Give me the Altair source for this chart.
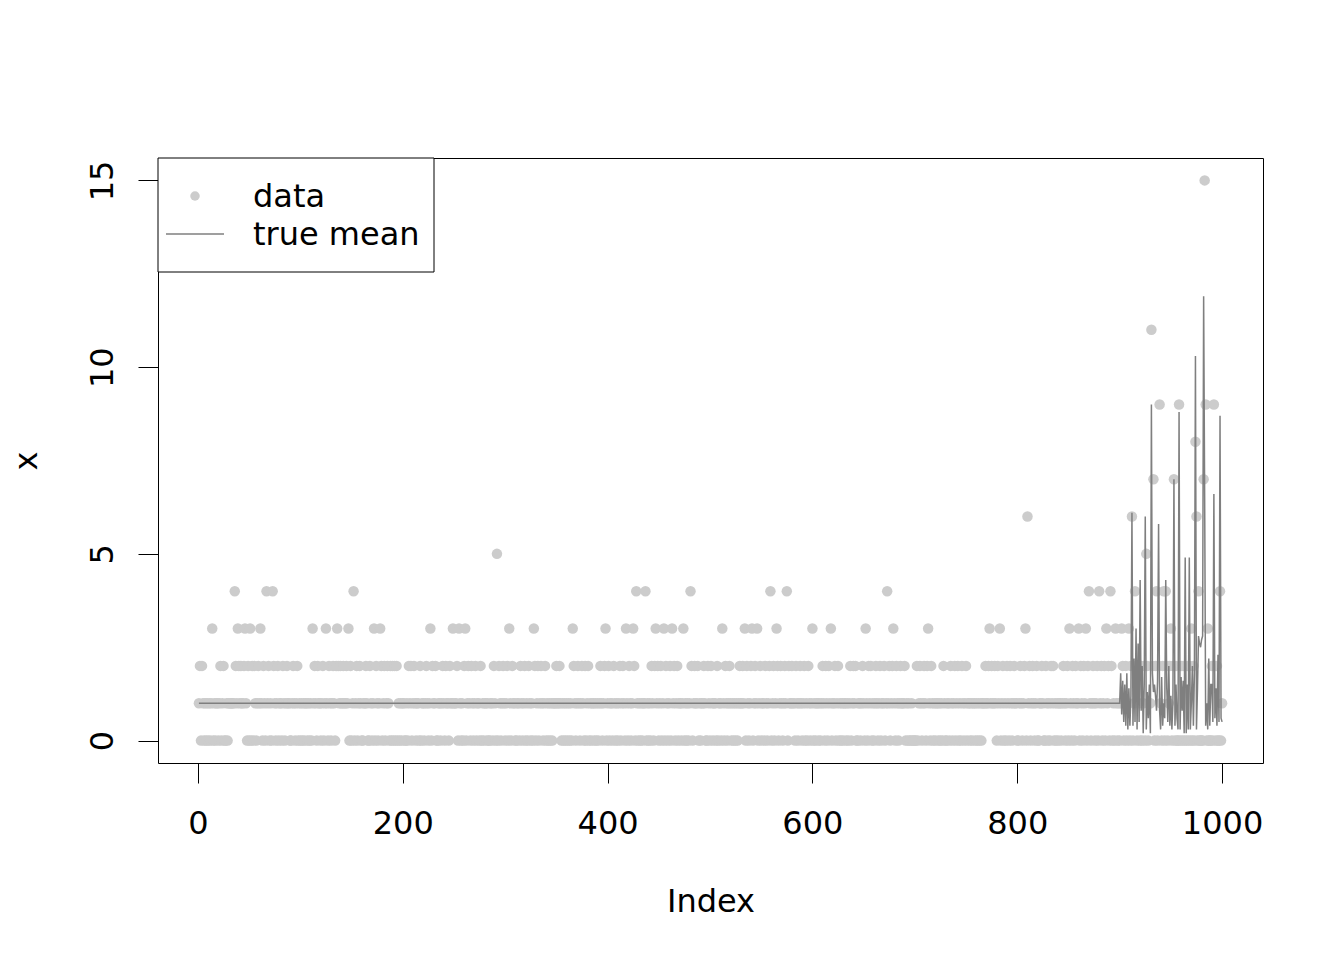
import altair as alt
import pandas as pd

x_001_100 = ("1202101010" "1013010110" "1201200101" "1111142132" "1211231020"
             "3020210121" "3102104120" "1042101201" "1021012110" "0121012010")
x_101_200 = ("1010110101" "0312102110" "1201310210" "1210232121" "1211213020"
             "1401201210" "0112100210" "1302101320" "1201210202" "0202010101")
x_201_300 = ("1001021201" "2101102011" "0121013021" "1200110121" "0211021131"
             "1120310102" "3012102101" "2011020101" "1010011021" "0502101210")
x_301_400 = ("1203102110" "0110210120" "1021010320" "1201210120" "1010101112"
             "1121010101" "0101032101" "2101210201" "2010110101" "0121012301")
x_401_500 = ("2011021010" "1201210310" "2101320410" "1010114010" "1021023120"
             "1201302101" "2031201201" "1013010101" "4201211201" "0112100210")
x_501_600 = ("2101102011" "0310210121" "0101010121" "1213021012" "3012130120"
             "1102101240" "1201320121" "0121402112" "1102101210" "1201021013")
x_601_700 = ("0101101012" "1021021301" "1201201010" "1101012012" "1200110121"
             "0310212010" "1210120112" "0141201231" "0210121112" "0101001000")
x_701_800 = ("0201210121" "0231021010" "1101010210" "0110210120" "1201021012"
             "0110101101" "0101011121" "1231211210" "2130120102" "1021012110")
x_801_900 = ("0121012306" "1201210120" "0112100210" "1021201010" "1101210120"
             "3102102113" "0210213024" "1012101204" "1201203120" "4201031010")
x_901_1000 = [1, 3, 2, 0, 1, 2, 0, 1, 3, 0,
              2, 6, 0, 1, 4, 2, 0, 2, 1, 0,
              2, 0, 1, 2, 0, 5, 2, 0, 1, 1,
              11, 2, 7, 0, 2, 4, 0, 2, 9, 1,
              0, 2, 4, 0, 4, 2, 0, 1, 2, 3,
              0, 2, 7, 0, 2, 0, 0, 9, 0, 2,
              0, 2, 0, 2, 0, 2, 0, 2, 0, 3,
              0, 2, 0, 8, 6, 0, 4, 0, 0, 0,
              0, 7, 15, 9, 0, 3, 0, 0, 0, 2,
              0, 9, 2, 0, 2, 0, 0, 4, 0, 1]

# True mean: constant 1 up to index 900, then the values below
mean_flat_value = 1.0
mean_flat_until = 900
mean_901_1000 = [1.8, 0.7, 1.6, 0.5, 1.5, 0.4, 1.8, 0.3, 1.4, 0.4,
                 1.2, 6.1, 0.4, 2.2, 0.5, 3.0, 0.3, 2.6, 0.5, 4.3,
                 0.8, 2.0, 0.2, 1.5, 6.0, 0.3, 1.3, 0.6, 1.5, 0.2,
                 9.0, 1.8, 1.3, 1.5, 1.2, 0.8, 1.6, 5.8, 0.8, 0.3,
                 1.7, 0.4, 1.0, 0.6, 4.3, 1.4, 0.5, 2.0, 0.4, 1.2,
                 0.3, 1.0, 7.0, 0.4, 1.5, 0.6, 0.3, 8.8, 0.3, 1.7,
                 0.8, 1.6, 0.2, 4.9, 0.2, 1.5, 0.3, 4.9, 0.3, 1.0,
                 2.0, 0.4, 1.8, 10.3, 0.3, 1.4, 2.8, 2.6, 2.5, 2.7,
                 2.8, 11.9, 6.5, 0.4, 1.0, 0.3, 2.2, 0.4, 1.5, 1.5,
                 0.5, 6.6, 0.6, 1.4, 0.4, 2.3, 0.5, 8.7, 0.6, 0.5]

x_ticks = [0, 200, 400, 600, 800, 1000]
y_ticks = [0, 5, 10, 15]
legend_labels = ["data", "true mean"]

digits = (x_001_100 + x_101_200 + x_201_300 + x_301_400 + x_401_500 +
          x_501_600 + x_601_700 + x_701_800 + x_801_900)
values = [int(c) for c in digits] + x_901_1000
means = [mean_flat_value] * mean_flat_until + mean_901_1000
index = list(range(1, len(values) + 1))

df = pd.DataFrame({"Index": index, "x": values, "mean": means})

FONT = "DejaVu Sans"
FS = 32
DOT = "#cccccc"
LINE = "#7f7f7f"

xscale = alt.Scale(domain=[-38.96, 1039.96], nice=False, zero=False)
yscale = alt.Scale(domain=[-0.6, 15.6], nice=False, zero=False)

xaxis = alt.Axis(values=x_ticks, format="d", tickSize=20, labelPadding=50,
                 labelBaseline="alphabetic", labelFlush=False, labelOverlap=False,
                 title="Index", titleY=148, titleBaseline="alphabetic")
yaxis = alt.Axis(values=y_ticks, format="d", tickSize=20, labelPadding=26,
                 labelAngle=270, labelAlign="center", labelBaseline="alphabetic",
                 labelFlush=False, labelOverlap=False,
                 title="x", titleAngle=270, titleX=-122, titleY=302.5,
                 titleAlign="center", titleBaseline="alphabetic")

points = alt.Chart(df).mark_point(filled=True, size=110, opacity=1, color=DOT).encode(
    x=alt.X("Index:Q", scale=xscale, axis=xaxis),
    y=alt.Y("x:Q", scale=yscale, axis=yaxis),
)

line = alt.Chart(df).mark_line(strokeWidth=1.5, color=LINE).encode(
    x=alt.X("Index:Q", scale=xscale),
    y=alt.Y("mean:Q", scale=yscale),
)

# legend (drawn as decoration in the top-left corner of the plot box)
one = pd.DataFrame({"k": [0]})
leg_box = alt.Chart(one).mark_rect(fill="white", stroke="black", strokeWidth=1).encode(
    x=alt.value(0), x2=alt.value(276), y=alt.value(0), y2=alt.value(114))
leg_dot = alt.Chart(one).mark_point(filled=True, size=90, opacity=1, color=DOT).encode(
    x=alt.value(37), y=alt.value(38))
leg_line = alt.Chart(one).mark_rule(strokeWidth=1.5, color=LINE).encode(
    x=alt.value(8), x2=alt.value(66), y=alt.value(76))
leg_text1 = alt.Chart(one).mark_text(align="left", baseline="alphabetic", font=FONT,
                                      fontSize=FS, color="black").encode(
    x=alt.value(95), y=alt.value(49), text=alt.value(legend_labels[0]))
leg_text2 = alt.Chart(one).mark_text(align="left", baseline="alphabetic", font=FONT,
                                      fontSize=FS, color="black").encode(
    x=alt.value(95), y=alt.value(87), text=alt.value(legend_labels[1]))

chart = alt.layer(points, line, leg_box, leg_dot, leg_line, leg_text1, leg_text2).properties(
    width=1105, height=605,
    padding={"left": 150, "top": 150, "right": 73, "bottom": 189},
    autosize=alt.AutoSizeParams(type="none"),
).configure(font=FONT).configure_view(
    stroke="black", strokeWidth=1
).configure_axis(
    labelFont=FONT, titleFont=FONT, labelFontSize=FS, titleFontSize=FS,
    titleFontWeight="normal", labelColor="black", titleColor="black",
    tickColor="black", tickWidth=1, domain=False, grid=False,
)

chart.save("out.html", embed_options={"renderer": "svg", "actions": False})
